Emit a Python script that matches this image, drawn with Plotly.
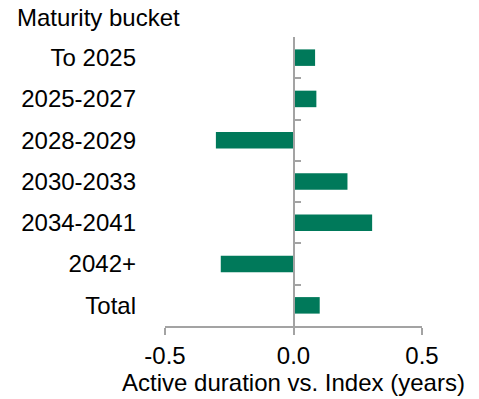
import plotly.graph_objects as go

categories = ["To 2025", "2025-2027", "2028-2029", "2030-2033", "2034-2041", "2042+", "Total"]
values = [0.084, 0.089, -0.302, 0.210, 0.306, -0.283, 0.102]
x_ticks = [-0.5, 0.0, 0.5]
x_tick_text = ["-0.5", "0.0", "0.5"]

BAR = "#00795A"
AX = "#A3A3A3"
FONT = dict(family="Liberation Sans, Arial, sans-serif", size=24, color="#000000")

fig = go.Figure()
fig.add_trace(go.Bar(x=values, y=categories, orientation="h", marker=dict(color=BAR, line=dict(width=0)),
                     width=0.4, yaxis="y", showlegend=False))
# invisible trace to drive the y-axis drawn at x = 0
fig.add_trace(go.Scatter(x=[0] * len(categories), y=categories, mode="markers",
                         marker=dict(opacity=0), yaxis="y2", showlegend=False, hoverinfo="skip"))

fig.update_layout(
    width=479, height=399,
    margin=dict(l=165, r=57, t=37, b=71),
    paper_bgcolor="white", plot_bgcolor="white",
    font=FONT,
    xaxis=dict(range=[-0.5, 0.5], tickvals=x_ticks, ticktext=x_tick_text, showgrid=False, zeroline=False,
               showline=True, linecolor=AX, linewidth=1.5, ticks="outside", ticklen=7, tickcolor=AX,
               tickwidth=1.5, tickfont=FONT,
               title=dict(text="Active duration vs. Index (years)", standoff=2, font=FONT),
               domain=[0, 1]),
    yaxis=dict(type="category", categoryorder="array", categoryarray=categories, range=[6.5, -0.5],
               showgrid=False, zeroline=False, showline=False, ticks="", ticklabelstandoff=28,
               tickfont=FONT),
    yaxis2=dict(type="category", categoryorder="array", categoryarray=categories, range=[6.5, -0.5],
                overlaying="y", anchor="free", position=0.5, side="left", showgrid=False, zeroline=False,
                showline=True, linecolor=AX, linewidth=1.5, ticks="inside", tickson="boundaries",
                ticklen=7, tickcolor=AX, tickwidth=1.5, showticklabels=False),
    annotations=[dict(text="Maturity bucket", xref="paper", yref="paper", x=-0.584, y=1.0,
                      xanchor="left", yanchor="bottom", yshift=4, showarrow=False, font=FONT)],
)

fig.write_html("out.html")
